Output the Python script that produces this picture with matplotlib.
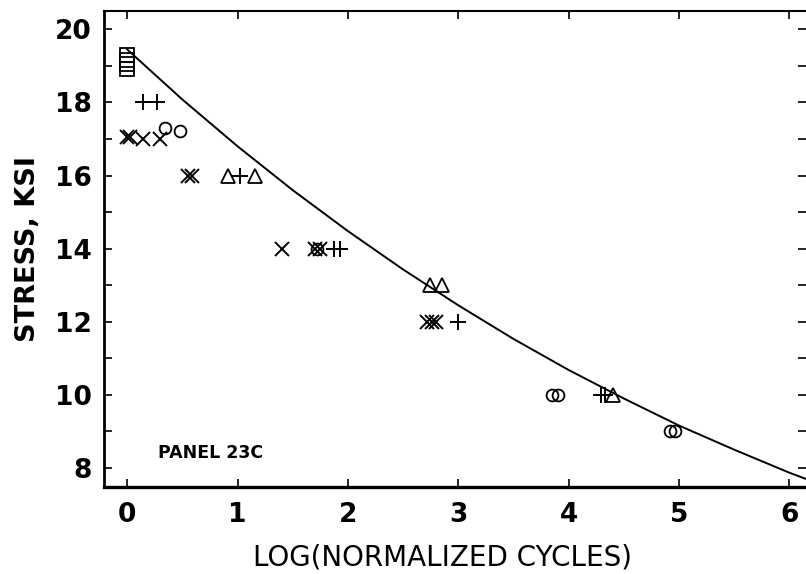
import matplotlib
matplotlib.use("Agg")
import matplotlib.pyplot as plt
from matplotlib.ticker import MultipleLocator

# Fatigue test results, grouped by plotting symbol
square_x = [0.0, 0.0, 0.0, 0.0]
square_y = [19.30, 19.17, 19.04, 18.91]

plus_x = [0.14, 0.27, 1.02, 1.87, 1.93, 3.00, 4.29, 4.33]
plus_y = [18.0, 18.0, 16.0, 14.0, 14.0, 12.0, 10.0, 10.0]

cross_x = [0.00, 0.03, 0.14, 0.30, 0.55, 0.59, 1.40, 1.70, 1.75, 2.72, 2.76, 2.80]
cross_y = [17.05, 17.05, 17.0, 17.0, 16.0, 16.0, 14.0, 14.0, 14.0, 12.0, 12.0, 12.0]

circle_x = [0.34, 0.48, 1.72, 3.85, 3.90, 4.92, 4.96]
circle_y = [17.30, 17.22, 14.0, 10.0, 10.0, 9.0, 9.0]

triangle_x = [0.91, 1.16, 2.74, 2.85, 4.40]
triangle_y = [16.0, 16.0, 13.0, 13.0, 10.0]

# S-N fit curve
curve_x = [0.0, 0.5, 1.0, 1.5, 2.0, 2.5, 3.0, 3.5, 4.0, 4.5, 5.0, 5.5, 6.0, 6.15]
curve_y = [19.45, 18.08, 16.80, 15.60, 14.48, 13.43, 12.45, 11.53, 10.68, 9.90, 9.16, 8.50, 7.87, 7.70]

x_ticks = [0, 1, 2, 3, 4, 5, 6]
y_ticks = [8, 10, 12, 14, 16, 18, 20]

fig = plt.figure(figsize=(8.06, 5.74), dpi=100)
ax = fig.add_axes([0.129, 0.1516, 0.871, 0.8292])

ax.plot(curve_x, curve_y, color="black", lw=1.4, zorder=2)

mk = dict(linestyle="none", color="black", markerfacecolor="none", zorder=3)
ax.plot(square_x, square_y, marker="s", markersize=10.5, markeredgewidth=1.3, **mk)
ax.plot(plus_x, plus_y, marker="+", markersize=12, markeredgewidth=1.4, **mk)
ax.plot(cross_x, cross_y, marker="x", markersize=10.5, markeredgewidth=1.4, **mk)
ax.plot(circle_x, circle_y, marker="o", markersize=8.5, markeredgewidth=1.3, **mk)
ax.plot(triangle_x, triangle_y, marker="^", markersize=10, markeredgewidth=1.3, **mk)

ax.set_xlim(-0.21, 6.15)
ax.set_ylim(7.48, 20.5)

ax.set_xticks(x_ticks)
ax.set_yticks(y_ticks)
ax.yaxis.set_minor_locator(MultipleLocator(1))

ax.tick_params(axis="both", which="both", direction="in", color="black",
               top=True, right=True, labelright=False, labeltop=False)
ax.tick_params(axis="both", which="major", length=6, width=1.2)
ax.tick_params(axis="y", which="minor", length=6, width=1.2)
ax.tick_params(axis="y", which="major", pad=9)
ax.tick_params(axis="x", which="major", pad=11)

for lbl in ax.get_xticklabels() + ax.get_yticklabels():
    lbl.set_fontfamily("DejaVu Sans")
    lbl.set_fontweight("bold")
    lbl.set_fontsize(19)

ax.spines["right"].set_visible(False)
ax.spines["left"].set_linewidth(2.0)
ax.spines["bottom"].set_linewidth(2.4)
ax.spines["top"].set_linewidth(1.5)

ax.set_xlabel("LOG(NORMALIZED CYCLES)", fontfamily="DejaVu Sans", fontsize=20)
ax.xaxis.set_label_coords(0.482, -0.118, transform=ax.transAxes)
ax.xaxis.label.set_verticalalignment("top")
ax.set_ylabel("STRESS, KSI", fontfamily="DejaVu Sans", fontweight="bold",
              fontsize=19.5, labelpad=10)

ax.text(0.28, 8.27, "PANEL 23C", fontfamily="DejaVu Sans", fontweight="bold",
        fontsize=12.5, ha="left", va="baseline")

fig.savefig("out.png", dpi=100, facecolor="white")
